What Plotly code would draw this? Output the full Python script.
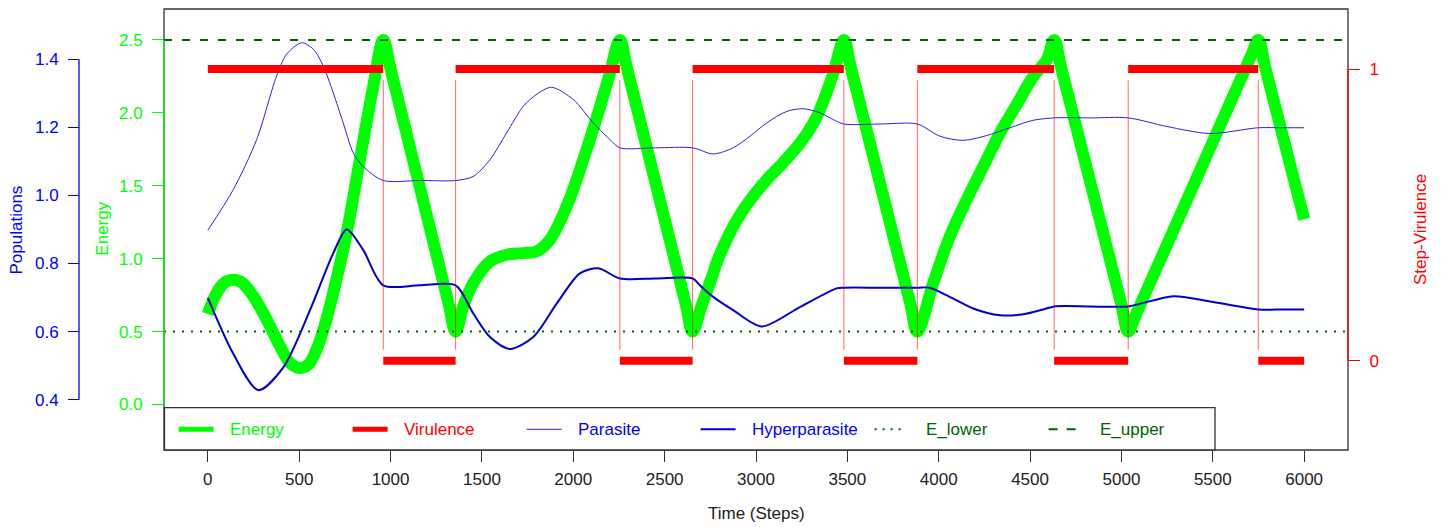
import plotly.graph_objects as go

# page body has an 8px margin; the figure is sized/offset to compensate
PAGE_OFF = 8
W, H = 1444 - PAGE_OFF, 527 - PAGE_OFF

# ---------------- data ----------------
switch_t = [0, 960, 1356, 2255, 2653, 3481, 3883, 4632, 5037, 5749, 6000]
virulence_level = [1, 0, 1, 0, 1, 0, 1, 0, 1, 0]

energy_t = [0, 48, 94, 139, 185, 249, 322, 395, 449, 504, 550, 595, 641, 686, 760, 832, 905, 960,
            1000, 1316,
            1356, 1398, 1453, 1544, 1635, 1726, 1799, 1872, 1964, 2055, 2146, 2200, 2255,
            2295, 2613,
            2653, 2700, 2766, 2784, 2875, 2967, 3058, 3149, 3240, 3331, 3423, 3481,
            3521, 3843,
            3883, 3970, 4061, 4153, 4244, 4335, 4426, 4517, 4590, 4632,
            4672, 4997,
            5037, 5077, 5709, 5749, 5789, 6000]
energy_v = [0.62, 0.765, 0.838, 0.856, 0.838, 0.742, 0.582, 0.40, 0.286, 0.251, 0.274, 0.377, 0.548, 0.765, 1.176, 1.678, 2.18, 2.5,
            2.30, 0.70,
            0.5, 0.674, 0.833, 0.98, 1.027, 1.038, 1.05, 1.13, 1.36, 1.68, 2.04, 2.27, 2.5,
            2.30, 0.70,
            0.5, 0.67, 0.90, 0.97, 1.22, 1.40, 1.54, 1.66, 1.79, 1.97, 2.27, 2.5,
            2.30, 0.70,
            0.5, 0.833, 1.153, 1.404, 1.632, 1.861, 2.055, 2.249, 2.36, 2.5,
            2.30, 0.70,
            0.5, 0.61, 2.39, 2.5, 2.30, 1.27]

parasite_t = [0, 139, 267, 376, 431, 513, 577, 632, 686, 741, 796, 850, 960, 1160, 1356,
              1453, 1544, 1635, 1726, 1799, 1881, 2000, 2109, 2146, 2201, 2255, 2450, 2653,
              2766, 2875, 2967, 3058, 3168, 3258, 3350, 3423, 3481, 3680, 3883,
              4007, 4134, 4262, 4390, 4517, 4632, 4835, 5037, 5247, 5484, 5749, 5880, 6000]
parasite_v = [0.898, 1.017, 1.164, 1.351, 1.415, 1.449, 1.43, 1.38, 1.302, 1.213, 1.125, 1.085, 1.044, 1.044, 1.044,
              1.056, 1.105, 1.184, 1.262, 1.297, 1.318, 1.282, 1.213, 1.193, 1.164, 1.14, 1.14, 1.14,
              1.122, 1.14, 1.174, 1.213, 1.247, 1.255, 1.243, 1.223, 1.21, 1.21, 1.21,
              1.174, 1.162, 1.176, 1.199, 1.221, 1.228, 1.228, 1.228, 1.203, 1.182, 1.199, 1.199, 1.199]

hyper_t = [0, 139, 276, 413, 559, 686, 760, 850, 960, 1160, 1356, 1453, 1544, 1653, 1781, 1909,
           2036, 2137, 2255, 2450, 2653, 2693, 2766, 2875, 3031, 3240, 3441, 3481, 3680, 3883, 3951,
           4061, 4189, 4335, 4463, 4572, 4632, 4835, 5037, 5284, 5502, 5749, 5880, 6000]
hyper_v = [0.699, 0.535, 0.428, 0.495, 0.663, 0.83, 0.90, 0.84, 0.736, 0.736, 0.736, 0.653, 0.584, 0.549, 0.584, 0.682,
           0.771, 0.786, 0.756, 0.756, 0.756, 0.736, 0.702, 0.663, 0.615, 0.672, 0.727, 0.729, 0.729, 0.729, 0.729,
           0.702, 0.668, 0.648, 0.651, 0.665, 0.674, 0.674, 0.674, 0.704, 0.687, 0.665, 0.665, 0.665]

E_lower, E_upper = 0.5, 2.5

x_ticks = [0, 500, 1000, 1500, 2000, 2500, 3000, 3500, 4000, 4500, 5000, 5500, 6000]
energy_ticks = [0.0, 0.5, 1.0, 1.5, 2.0, 2.5]
pop_ticks = [0.4, 0.6, 0.8, 1.0, 1.2, 1.4]
vir_ticks = [0, 1]

legend_labels = ["Energy", "Virulence", "Parasite", "Hyperparasite", "E_lower", "E_upper"]

# ---------------- styles ----------------
GREEN = "#00FF00"
RED = "#FF0000"
BLUE = "#0000FF"
PBLUE = "#2525DD"
HBLUE = "#0000CC"
DGREEN = "#006400"
FONT = "Liberation Sans, Arial, Helvetica, sans-serif"
FS = 17


def X(px):
    """screen x (reference pixels) -> paper x"""
    return (px - PAGE_OFF) / W


def Y(py):
    """screen y (reference pixels) -> paper y (plot box is 9..450)"""
    return (450 - py) / 441


fig = go.Figure()

fig.add_trace(go.Scatter(x=energy_t, y=energy_v, mode="lines", name="Energy",
                         line=dict(color=GREEN, width=12, shape="spline", smoothing=1),
                         yaxis="y", showlegend=False))

vx, vy = [], []
for i, lvl in enumerate(virulence_level):
    vx += [switch_t[i], switch_t[i + 1], None]
    vy += [lvl, lvl, None]
fig.add_trace(go.Scatter(x=vx, y=vy, mode="lines", name="Virulence",
                         line=dict(color=RED, width=8), yaxis="y3", showlegend=False))

sx, sy = [], []
for t in switch_t[1:-1]:
    sx += [t, t, None]
    sy += [0.038, 0.962, None]
fig.add_trace(go.Scatter(x=sx, y=sy, mode="lines", name="switch",
                         line=dict(color="rgba(255,0,0,0.6)", width=1), yaxis="y3", showlegend=False))

fig.add_trace(go.Scatter(x=parasite_t, y=parasite_v, mode="lines", name="Parasite",
                         line=dict(color=PBLUE, width=1, shape="spline", smoothing=0.8),
                         yaxis="y2", showlegend=False))
fig.add_trace(go.Scatter(x=hyper_t, y=hyper_v, mode="lines", name="Hyperparasite",
                         line=dict(color=HBLUE, width=2, shape="spline", smoothing=0.8),
                         yaxis="y2", showlegend=False))

shapes = []
# E lines (abline across the full plot)
shapes.append(dict(type="line", xref="paper", yref="y", x0=X(164), x1=X(1348), y0=E_lower, y1=E_lower,
                   line=dict(color=DGREEN, width=2, dash="2px,7px"), layer="above"))
shapes.append(dict(type="line", xref="paper", yref="y", x0=X(164), x1=X(1348), y0=E_upper, y1=E_upper,
                   line=dict(color=DGREEN, width=2, dash="8px,10px"), layer="above"))
# plot box
shapes.append(dict(type="rect", xref="paper", yref="paper", x0=X(164), x1=X(1348), y0=0, y1=1,
                   line=dict(color="#333333", width=1.3), layer="above"))
# axis lines spanning first to last tick (R style)
shapes.append(dict(type="line", xref="paper", yref="y", x0=X(164), x1=X(164),
                   y0=energy_ticks[0], y1=energy_ticks[-1], line=dict(color=GREEN, width=1.5), layer="above"))
shapes.append(dict(type="line", xref="paper", yref="y2", x0=X(79), x1=X(79),
                   y0=pop_ticks[0], y1=pop_ticks[-1], line=dict(color=BLUE, width=1.3), layer="above"))
shapes.append(dict(type="line", xref="paper", yref="y3", x0=X(1348), x1=X(1348),
                   y0=vir_ticks[0], y1=vir_ticks[-1], line=dict(color=RED, width=1.3), layer="above"))

# legend (R style, bottom-left inside the plot box)
shapes.append(dict(type="rect", xref="paper", yref="paper", x0=X(164.5), x1=X(1215), y0=Y(450), y1=Y(407.7),
                   line=dict(color="#333333", width=1.3), fillcolor="white", layer="above"))
leg_styles = [
    (GREEN, 5, "solid", GREEN),
    (RED, 5, "solid", RED),
    (PBLUE, 1, "solid", BLUE),
    (HBLUE, 2, "solid", BLUE),
    (DGREEN, 2, "2px,6px", DGREEN),
    (DGREEN, 2, "9px,9px", DGREEN),
]
annotations = []
for i, lab in enumerate(legend_labels):
    x0 = 178.6 + 174 * i
    col, lw, dash, tcol = leg_styles[i]
    sym_w = 35 if i < 4 else (29 if i == 4 else 27)
    shapes.append(dict(type="line", xref="paper", yref="paper", x0=X(x0), x1=X(x0 + sym_w),
                       y0=Y(429.3), y1=Y(429.3), line=dict(color=col, width=lw, dash=dash), layer="above"))
    annotations.append(dict(x=X(x0 + 49.5), y=Y(429.3), xref="paper", yref="paper", text=lab,
                            showarrow=False, xanchor="left", yanchor="middle",
                            font=dict(family=FONT, size=FS, color=tcol)))

# axis titles
annotations.append(dict(x=X(16.5), y=Y(230), xref="paper", yref="paper", text="Populations", textangle=-90,
                        showarrow=False, xanchor="center", yanchor="middle",
                        font=dict(family=FONT, size=FS, color=BLUE)))
annotations.append(dict(x=X(101.7), y=Y(229), xref="paper", yref="paper", text="Energy", textangle=-90,
                        showarrow=False, xanchor="center", yanchor="middle",
                        font=dict(family=FONT, size=FS, color=GREEN)))
annotations.append(dict(x=X(1421), y=Y(230), xref="paper", yref="paper", text="Step-Virulence", textangle=-90,
                        showarrow=False, xanchor="center", yanchor="middle",
                        font=dict(family=FONT, size=FS, color=RED)))
annotations.append(dict(x=X(756), y=Y(513), xref="paper", yref="paper", text="Time (Steps)",
                        showarrow=False, xanchor="center", yanchor="middle",
                        font=dict(family=FONT, size=FS, color="#222222")))

fig.update_layout(
    width=W, height=H,
    margin=dict(l=0, r=0, t=9 - PAGE_OFF, b=H - (450 - PAGE_OFF)),
    paper_bgcolor="white", plot_bgcolor="white",
    font=dict(family=FONT, size=FS),
    showlegend=False,
    xaxis=dict(domain=[X(164), X(1348)], range=[-240, 6240], tickvals=x_ticks,
               ticks="outside", ticklen=11, tickwidth=1.3, tickcolor="#333333",
               ticklabelstandoff=3,
               showgrid=False, zeroline=False, showline=False,
               tickfont=dict(family=FONT, size=FS, color="#222222")),
    yaxis=dict(range=[-0.312, 2.712], tickvals=energy_ticks, tickformat=".1f",
               ticks="outside", ticklen=11, tickwidth=1.3, tickcolor=GREEN,
               ticklabelstandoff=6,
               showgrid=False, zeroline=False, showline=False,
               tickfont=dict(family=FONT, size=FS, color=GREEN)),
    yaxis2=dict(range=[0.252, 1.548], tickvals=pop_ticks, tickformat=".1f", overlaying="y",
                anchor="free", position=X(79), side="left",
                ticks="outside", ticklen=11, tickwidth=1.3, tickcolor=BLUE,
                ticklabelstandoff=6,
                showgrid=False, zeroline=False, showline=False,
                tickfont=dict(family=FONT, size=FS, color=BLUE)),
    yaxis3=dict(range=[-0.306, 1.206], tickvals=vir_ticks, overlaying="y",
                anchor="free", position=X(1348), side="right",
                ticks="outside", ticklen=11, tickwidth=1.3, tickcolor=RED,
                ticklabelstandoff=6,
                showgrid=False, zeroline=False, showline=False,
                tickfont=dict(family=FONT, size=FS, color=RED)),
    shapes=shapes,
    annotations=annotations,
)

fig.write_html("out.html")
